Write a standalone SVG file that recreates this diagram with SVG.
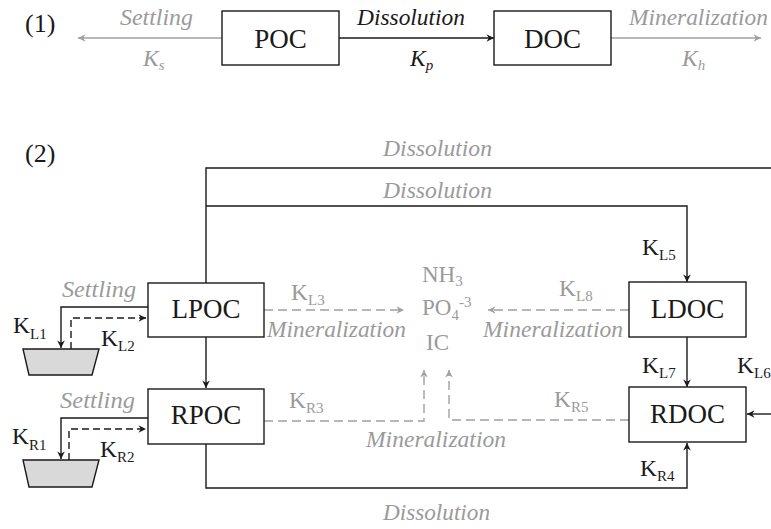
<svg xmlns="http://www.w3.org/2000/svg" width="771" height="529" viewBox="0 0 771 529" font-family="'Liberation Serif', serif">
  <style>
    .box { fill: #ffffff; stroke: #1a1a1a; stroke-width: 1.4; }
    .lbl { font-size: 27px; fill: #1a1a1a; text-anchor: middle; }
    .tag { font-size: 26px; fill: #1a1a1a; }
    .it { font-style: italic; font-size: 23px; }
    .blk { fill: #1a1a1a; }
    .gry { fill: #9a9a9a; }
    .k { font-size: 23.5px; }
    .sub { font-size: 15px; }
    .ln { fill: none; stroke: #1a1a1a; stroke-width: 1.4; }
    .lng { fill: none; stroke: #a0a0a0; stroke-width: 1.4; }
    .dk { stroke-dasharray: 7 4; }
    .dg { stroke-dasharray: 9 5; }
    .tank { fill: #d9d9d9; stroke: #1a1a1a; stroke-width: 1.4; }
    .chem { font-size: 23px; fill: #9a9a9a; }
  </style>
  <defs>
    <marker id="ahk" viewBox="-9 -5 10 10" refX="0" refY="0" markerWidth="10" markerHeight="10" markerUnits="userSpaceOnUse" orient="auto">
      <path d="M0,0 L-7.5,-3.8 L-5.2,0 L-7.5,3.8 Z" fill="#1a1a1a"/>
    </marker>
    <marker id="ahg" viewBox="-9 -5 10 10" refX="0" refY="0" markerWidth="10" markerHeight="10" markerUnits="userSpaceOnUse" orient="auto">
      <path d="M0,0 L-7.5,-3.8 L-5.2,0 L-7.5,3.8 Z" fill="#a0a0a0"/>
    </marker>
  </defs>

  <!-- Panel (1): single-pool scheme -->
  <text class="tag" x="25" y="32">(1)</text>

  <g id="connectors-1">
    <path class="lng" d="M222,38 H78" marker-end="url(#ahg)"/>
    <path class="ln" d="M339,38 H494" marker-end="url(#ahk)"/>
    <path class="lng" d="M611,38 H761" marker-end="url(#ahg)"/>
    <text class="it gry" x="120" y="25" textLength="73" lengthAdjust="spacingAndGlyphs">Settling</text>
    <text class="it gry k" x="143" y="66">K<tspan class="sub" dy="4">s</tspan></text>
    <text class="it blk" x="357" y="25" textLength="108" lengthAdjust="spacingAndGlyphs">Dissolution</text>
    <text class="it blk k" x="410" y="66">K<tspan class="sub" dy="4">p</tspan></text>
    <text class="it gry" x="629" y="25" textLength="139" lengthAdjust="spacingAndGlyphs">Mineralization</text>
    <text class="it gry k" x="682" y="66">K<tspan class="sub" dy="4">h</tspan></text>
  </g>

  <g id="poc">
    <rect class="box" x="222" y="11" width="117" height="54"/>
    <text class="lbl" x="280.5" y="47.5">POC</text>
  </g>
  <g id="doc">
    <rect class="box" x="494" y="11" width="117" height="54"/>
    <text class="lbl" x="552.5" y="47.5">DOC</text>
  </g>

  <!-- Panel (2): labile / refractory scheme -->
  <text class="tag" x="25" y="162">(2)</text>

  <g id="connectors-2">
    <!-- dissolution routes -->
    <path class="ln" d="M206,283 V168 H771"/>
    <path class="ln" d="M206,206 H687 V282" marker-end="url(#ahk)"/>
    <path class="ln" d="M206,337 V388" marker-end="url(#ahk)"/>
    <path class="ln" d="M687,337 V387" marker-end="url(#ahk)"/>
    <path class="ln" d="M206,444 V488 H687 V443" marker-end="url(#ahk)"/>
    <path class="ln" d="M771,414 H747" marker-end="url(#ahk)"/>

    <!-- settling loops -->
    <path class="ln" d="M148,307 H61 V348" marker-end="url(#ahk)"/>
    <path class="ln dk" d="M71,349 V318 H146" marker-end="url(#ahk)"/>
    <path class="ln" d="M148,418 H61 V459" marker-end="url(#ahk)"/>
    <path class="ln dk" d="M69,460 V429 H146" marker-end="url(#ahk)"/>

    <!-- mineralization routes -->
    <path class="lng dg" d="M264,310 H404" marker-end="url(#ahg)"/>
    <path class="lng dg" d="M629,310 H488" marker-end="url(#ahg)"/>
    <path class="lng dg" d="M264,421 H424 V370" marker-end="url(#ahg)"/>
    <path class="lng dg" d="M629,420 H449 V370" marker-end="url(#ahg)"/>

    <!-- route labels -->
    <text class="it gry" x="383" y="156" textLength="109" lengthAdjust="spacingAndGlyphs">Dissolution</text>
    <text class="it gry" x="383" y="198" textLength="109" lengthAdjust="spacingAndGlyphs">Dissolution</text>
    <text class="it gry" x="383" y="520" textLength="107" lengthAdjust="spacingAndGlyphs">Dissolution</text>
    <text class="it gry" x="62" y="297" textLength="74" lengthAdjust="spacingAndGlyphs">Settling</text>
    <text class="it gry" x="60" y="408" textLength="75" lengthAdjust="spacingAndGlyphs">Settling</text>
    <text class="it gry" x="267" y="337" textLength="139" lengthAdjust="spacingAndGlyphs">Mineralization</text>
    <text class="it gry" x="483" y="337" textLength="140" lengthAdjust="spacingAndGlyphs">Mineralization</text>
    <text class="it gry" x="366" y="447" textLength="140" lengthAdjust="spacingAndGlyphs">Mineralization</text>

    <!-- rate constants -->
    <text class="k blk" x="13" y="333">K<tspan class="sub" dy="6">L1</tspan></text>
    <text class="k blk" x="101" y="346">K<tspan class="sub" dy="5">L2</tspan></text>
    <text class="k gry" x="291" y="300">K<tspan class="sub" dy="5">L3</tspan></text>
    <text class="k blk" x="642" y="255">K<tspan class="sub" dy="5">L5</tspan></text>
    <text class="k blk" x="737" y="373">K<tspan class="sub" dy="5">L6</tspan></text>
    <text class="k blk" x="642" y="373">K<tspan class="sub" dy="5">L7</tspan></text>
    <text class="k gry" x="559" y="296">K<tspan class="sub" dy="5">L8</tspan></text>
    <text class="k blk" x="12" y="444">K<tspan class="sub" dy="6">R1</tspan></text>
    <text class="k blk" x="100" y="457">K<tspan class="sub" dy="5">R2</tspan></text>
    <text class="k gry" x="289" y="408">K<tspan class="sub" dy="5">R3</tspan></text>
    <text class="k blk" x="640" y="476">K<tspan class="sub" dy="5">R4</tspan></text>
    <text class="k gry" x="554" y="407">K<tspan class="sub" dy="5">R5</tspan></text>
  </g>

  <g id="sediment-l">
    <polygon class="tank" points="23,349 99,349 92,375 29,375"/>
  </g>
  <g id="sediment-r">
    <polygon class="tank" points="23,460 99,460 92,487 29,487"/>
  </g>

  <g id="lpoc">
    <rect class="box" x="148" y="283" width="116" height="54"/>
    <text class="lbl" x="206" y="318">LPOC</text>
  </g>
  <g id="rpoc">
    <rect class="box" x="148" y="389" width="116" height="55"/>
    <text class="lbl" x="206" y="424">RPOC</text>
  </g>
  <g id="ldoc">
    <rect class="box" x="629" y="282" width="117" height="55"/>
    <text class="lbl" x="687.5" y="318">LDOC</text>
  </g>
  <g id="rdoc">
    <rect class="box" x="629" y="387" width="117" height="55"/>
    <text class="lbl" x="687.5" y="423">RDOC</text>
  </g>

  <g id="nutrients">
    <text class="chem" x="422" y="282">NH<tspan font-size="15" dy="4">3</tspan></text>
    <text class="chem" x="422" y="315">PO<tspan font-size="15" dy="5">4</tspan><tspan font-size="15" dy="-13">-3</tspan></text>
    <text class="chem" x="426" y="350">IC</text>
  </g>
</svg>
